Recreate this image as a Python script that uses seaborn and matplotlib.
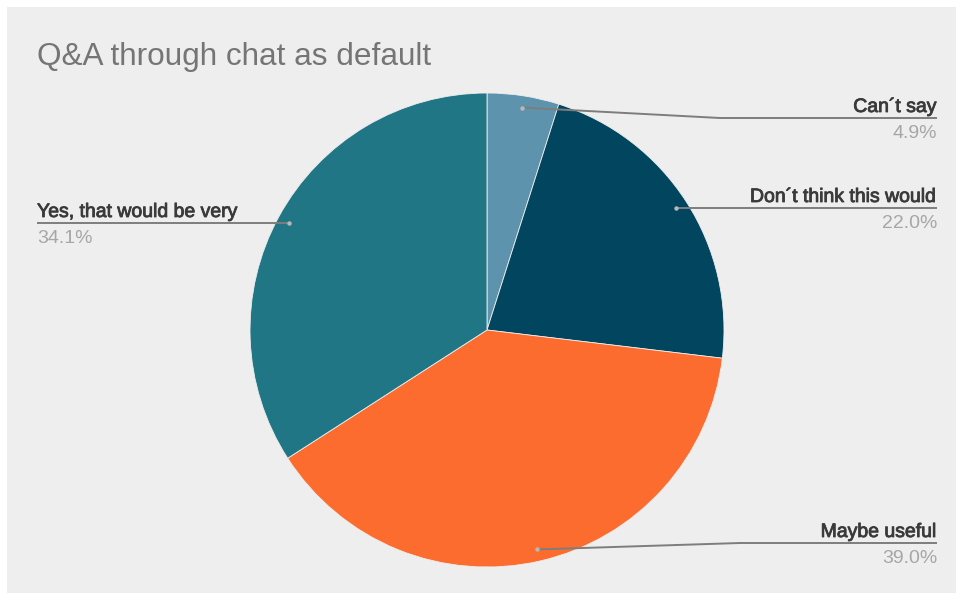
import numpy as np
import matplotlib
matplotlib.use("Agg")
import matplotlib.pyplot as plt
import matplotlib.patheffects as pe
from matplotlib.patches import Rectangle
import seaborn as sns

# Survey answers, clockwise from 12 o'clock
categories = ["Can\u00b4t say", "Don\u00b4t think this would", "Maybe useful", "Yes, that would be very"]
shares = [4.9, 22.0, 39.0, 34.1]
pct_labels = ["4.9%", "22.0%", "39.0%", "34.1%"]
title = "Q&A through chat as default"

sns.set_theme(style="white")
plt.rcParams["font.family"] = ["Liberation Sans", "DejaVu Sans"]

palette = sns.color_palette(["#5e93ad", "#02455f", "#fd6c2f", "#217686"])

W, H = 956, 593
fig = plt.figure(figsize=(W / 100, H / 100), dpi=100, facecolor="white")
ax = fig.add_axes([0, 0, 1, 1])


def Y(y):
    # top-down pixel row -> axis y
    return H - y


cx, cy, R = 487, 330, 237
wedges, _ = ax.pie(shares, colors=palette, startangle=90, counterclock=False,
                   center=(cx, Y(cy)), radius=R, frame=True,
                   wedgeprops=dict(linewidth=0.6, edgecolor="#eeeeee"))
ax.set_xlim(0, W)
ax.set_ylim(0, H)
ax.set_axis_off()

# chart card background
ax.add_patch(Rectangle((7, -5), W, H - 2, facecolor="#eeeeee", edgecolor="none",
                       zorder=0, clip_on=False))

ax.text(37, Y(65), title, fontsize=22.7, color="#757575", ha="left", va="baseline")

# label rows: leader line height and side of the chart
line_rows = [118, 208, 543, 223]
sides = ["right", "right", "right", "left"]
bends = [720, None, 740, None]

bold_ish = [pe.withStroke(linewidth=0.6, foreground="#3a3a3a")]

cum = np.cumsum([0] + shares)
for i, (cat, pct) in enumerate(zip(categories, pct_labels)):
    mid = 90 - (cum[i] + shares[i] / 2) * 3.6
    a = np.deg2rad(mid)
    dx = cx + 0.95 * R * np.cos(a)
    dy = Y(cy) + 0.95 * R * np.sin(a)
    ly = Y(line_rows[i])
    if sides[i] == "right":
        xe, ha = 937, "right"
    else:
        xe, ha = 37, "left"
    if bends[i] is not None:
        xs = [dx, bends[i], xe]
        ys = [dy, ly, ly]
    else:
        xs = [dx, xe]
        ys = [ly, ly]
    ax.plot(xs, ys, color="#7d7d7d", lw=1.4, solid_capstyle="butt", zorder=3)
    ax.plot([dx], [ys[0]], marker="o", ms=3.2, color="#b8b8b8", mec="none", zorder=4)
    ax.text(xe, ly + 6, cat, fontsize=14.0, color="#3a3a3a", ha=ha, va="baseline",
            zorder=5, path_effects=bold_ish)
    ax.text(xe, ly - 20, pct, fontsize=14.0, color="#a6a6a6", ha=ha, va="baseline", zorder=5)

fig.savefig("out.png", dpi=100, facecolor=fig.get_facecolor())
